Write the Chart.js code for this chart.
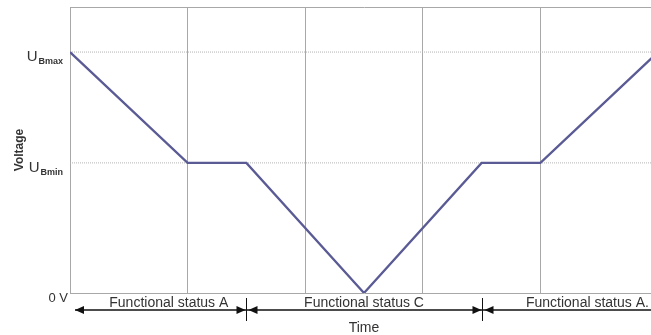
<!DOCTYPE html>
<html>
<head>
<meta charset="utf-8">
<script src="https://cdn.jsdelivr.net/npm/chart.js@4/dist/chart.umd.min.js"></script>
<style>
  html, body { margin: 0; padding: 0; background: #fff; overflow: hidden; }
  #wrap { width: 658px; height: 335px; }
</style>
</head>
<body>
<div id="wrap"><canvas id="c" width="658" height="335"></canvas></div>
<script>
// ---- data ----
const U_BMAX = 100;          // U_Bmax level (relative units)
const U_BMIN = 54;           // U_Bmin level
const Y_TOP = 118.7;         // top of the voltage axis
const timeValues    = [0, 1, 1.5, 2.5, 3.5, 4, 5];
const voltageValues = [U_BMAX, U_BMIN, U_BMIN, 0, U_BMIN, U_BMIN, U_BMAX];
const levelValues   = [U_BMAX, U_BMIN];
const levelLabels   = [['U', 'Bmax'], ['U', 'Bmin']];
const zeroLabel     = '0 V';
const statusBounds  = [0, 1.5, 3.5, 5];
const statusLabels  = ['Functional status A', 'Functional status C', 'Functional status A.'];
const statusLabelAt = [0.84, 2.5, 4.4];
const xTitle = 'Time';
const yTitle = 'Voltage';

const mainData = timeValues.map((t, i) => ({ x: t, y: voltageValues[i] }));
const levelSets = levelValues.map(v => ({
  data: [{ x: 0, y: v }, { x: 5, y: v }],
  borderColor: '#b4b4b4', borderWidth: 1, borderDash: [1, 1],
  pointRadius: 0, fill: false
}));

const FONT = '"Liberation Sans", Arial, sans-serif';

const overlay = {
  id: 'overlay',
  afterDraw(chart) {
    const ctx = chart.ctx;
    const xs = chart.scales.x, ys = chart.scales.y;
    ctx.save();
    // y level labels with subscripts
    ctx.fillStyle = '#333';
    ctx.textBaseline = 'alphabetic';
    levelValues.forEach((v, i) => {
      const py = ys.getPixelForValue(v);
      const [main, sub] = levelLabels[i];
      ctx.font = 'bold 9px ' + FONT;
      const sw = ctx.measureText(sub).width;
      ctx.font = '15px ' + FONT;
      const mw = ctx.measureText(main).width;
      const right = 63;
      ctx.textAlign = 'left';
      ctx.fillText(main, right - sw - mw - 1, py + 9);
      ctx.font = 'bold 9px ' + FONT;
      ctx.fillText(sub, right - sw, py + 12);
    });
    // 0 V
    ctx.font = '13px ' + FONT;
    ctx.textAlign = 'right';
    ctx.textBaseline = 'middle';
    ctx.fillText(zeroLabel, 68, ys.getPixelForValue(0) + 5);

    // status arrows
    const ay = 310;
    ctx.strokeStyle = '#111';
    ctx.fillStyle = '#111';
    ctx.lineWidth = 1.5;
    const x0 = xs.getPixelForValue(statusBounds[0]) + 5;
    const xEnd = chart.width;
    ctx.beginPath();
    ctx.moveTo(x0, ay);
    ctx.lineTo(xEnd, ay);
    ctx.stroke();
    const head = (tip, dir) => {
      ctx.beginPath();
      ctx.moveTo(tip, ay);
      ctx.lineTo(tip - dir * 9, ay - 4);
      ctx.lineTo(tip - dir * 9, ay + 4);
      ctx.closePath();
      ctx.fill();
    };
    head(x0, -1);
    statusBounds.slice(1, -1).forEach(b => {
      const bx = Math.round(xs.getPixelForValue(b)) + 0.5;
      ctx.lineWidth = 1;
      ctx.beginPath();
      ctx.moveTo(bx, 298);
      ctx.lineTo(bx, 321);
      ctx.stroke();
      head(bx - 1, 1);
      head(bx + 2, -1);
    });
    // status labels
    ctx.fillStyle = '#333';
    ctx.font = '14px ' + FONT;
    ctx.textAlign = 'center';
    ctx.textBaseline = 'middle';
    statusLabels.forEach((s, i) => {
      ctx.fillText(s, xs.getPixelForValue(statusLabelAt[i]), 303);
    });
    ctx.restore();
  }
};

new Chart(document.getElementById('c'), {
  type: 'line',
  data: {
    datasets: [
      { data: mainData, borderColor: '#5a5a95', borderWidth: 2.3, pointRadius: 0, fill: false, tension: 0 },
      ...levelSets
    ]
  },
  options: {
    responsive: false,
    animation: false,
    layout: { padding: { top: 7, left: 0, right: 0, bottom: 0 } },
    plugins: { legend: { display: false }, tooltip: { enabled: false } },
    scales: {
      x: {
        type: 'linear', min: 0, max: 5,
        ticks: { display: false, stepSize: 1 },
        grid: { color: '#a8a8a8', lineWidth: 1, drawTicks: false },
        border: { display: true, color: '#a8a8a8' },
        title: { display: true, text: xTitle, color: '#333', font: { family: FONT, size: 14 }, padding: { top: 0, bottom: -2 } },
        afterFit(s) { s.height = 42; }
      },
      y: {
        type: 'linear', min: 0, max: Y_TOP,
        afterBuildTicks(s) { s.ticks = [0, U_BMIN, U_BMAX, Y_TOP].map(v => ({ value: v })); },
        ticks: { display: false },
        grid: {
          color: c => (c.tick && c.tick.value === Y_TOP) ? '#a8a8a8' : 'rgba(0,0,0,0)',
          drawTicks: false
        },
        border: { display: true, color: '#a8a8a8' },
        title: { display: true, text: yTitle, color: '#333', font: { family: FONT, size: 12, weight: 'bold' }, padding: { top: 12, bottom: 0 } },
        afterFit(s) { s.width = 70; }
      }
    }
  },
  plugins: [overlay]
});
</script>
</body>
</html>
